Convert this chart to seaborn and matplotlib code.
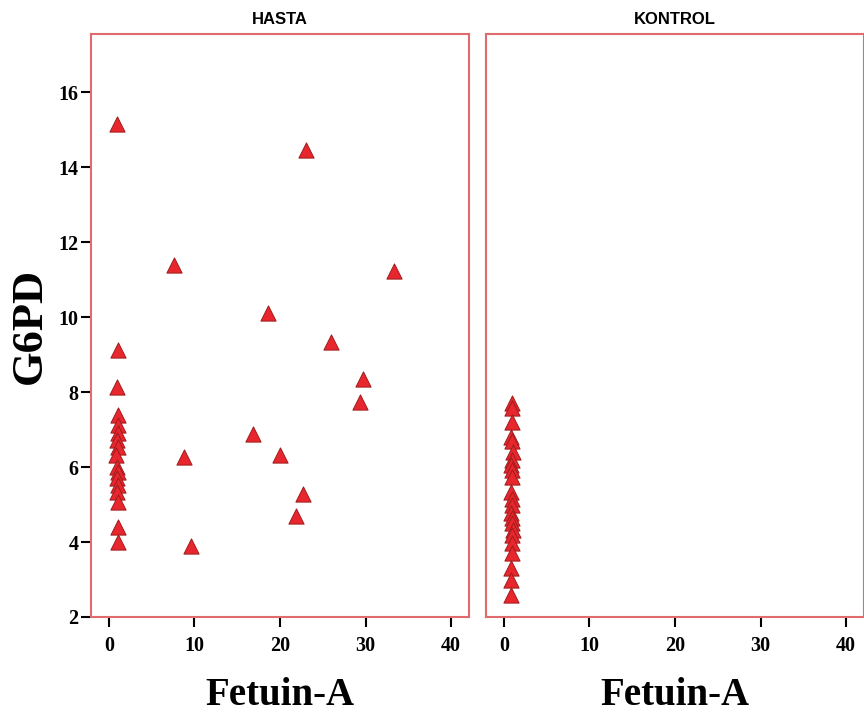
import matplotlib
matplotlib.use("Agg")
import matplotlib.pyplot as plt
import seaborn as sns
import pandas as pd

# Fetuin-A and G6PD measurements per group
hasta_fetuin = [0.9, 23.0, 7.6, 33.3, 18.6, 26.0, 29.7, 29.4, 16.8, 8.8, 20.0, 22.7, 21.9, 9.6,
                1.0, 0.9, 1.1, 1.1, 1.0, 0.9, 1.0, 0.8, 0.9, 1.0, 0.9, 1.0, 0.9, 1.0, 1.1, 1.0]
hasta_g6pd = [15.15, 14.45, 11.39, 11.23, 10.1, 9.33, 8.35, 7.73, 6.88, 6.27, 6.32, 5.28, 4.69, 3.89,
              9.12, 8.13, 7.39, 7.12, 6.9, 6.72, 6.54, 6.32, 6.01, 5.87, 5.7, 5.52, 5.34, 5.07, 4.41, 4.01]

kontrol_fetuin = [0.9, 0.9, 0.9, 0.8, 0.9, 1.0, 0.9, 0.8, 0.9, 0.9, 0.8,
                  0.9, 0.9, 0.8, 0.9, 0.9, 1.0, 0.9, 0.9, 0.9, 0.8, 0.8, 0.8]
kontrol_g6pd = [7.71, 7.57, 7.21, 6.81, 6.7, 6.41, 6.19, 6.05, 5.92, 5.74, 5.34,
                5.16, 4.99, 4.77, 4.63, 4.5, 4.32, 4.19, 3.97, 3.7, 3.3, 3.0, 2.6]

groups = ["HASTA", "KONTROL"]
x_ticks = [0, 10, 20, 30, 40]
y_ticks = [2, 4, 6, 8, 10, 12, 14, 16]

df = pd.DataFrame({
    "Fetuin-A": hasta_fetuin + kontrol_fetuin,
    "G6PD": hasta_g6pd + kontrol_g6pd,
    "grup": ["HASTA"] * len(hasta_fetuin) + ["KONTROL"] * len(kontrol_fetuin),
})

sns.set_style("white")
plt.rcParams["text.color"] = "black"
plt.rcParams["axes.labelcolor"] = "black"
plt.rcParams["xtick.color"] = "black"
plt.rcParams["ytick.color"] = "black"

FRAME = "#e06a6c"
serif = ["Liberation Serif", "DejaVu Serif"]
sans = ["Liberation Sans", "DejaVu Sans"]

fig = plt.figure(figsize=(8.64, 7.2), dpi=100)
left, bottom, width, height = 91 / 864, 1 - 617 / 720, 378 / 864, (617 - 34) / 720
gap = 17 / 864
axes = [fig.add_axes([left, bottom, width, height]),
        fig.add_axes([left + width + gap, bottom, width, height])]

for ax, g in zip(axes, groups):
    sub = df[df["grup"] == g]
    sns.scatterplot(data=sub, x="Fetuin-A", y="G6PD", ax=ax, marker="^", s=120,
                    color="#e8262e", edgecolor="#9e1c1c", linewidth=0.7, legend=False, zorder=3)
    ax.set_xlim(-2.1, 42.1)
    ax.set_ylim(2, 17.55)
    ax.set_xticks(x_ticks)
    ax.set_yticks(y_ticks)
    for sp in ax.spines.values():
        sp.set_visible(True)
        sp.set_color(FRAME)
        sp.set_linewidth(1.5)
    ax.tick_params(axis="both", direction="out", length=7, width=1.5, color="black",
                   labelcolor="black", labelsize=14.5, bottom=True, left=True)
    ax.tick_params(axis="x", pad=7)
    ax.tick_params(axis="y", pad=2)
    for lab in ax.get_xticklabels() + ax.get_yticklabels():
        lab.set_fontfamily(serif)
        lab.set_fontweight("bold")
    ax.set_title(g, fontsize=12, fontweight="bold", family=sans, pad=7, color="black")
    ax.set_xlabel("Fetuin-A", fontsize=28, fontweight="bold", family=serif, labelpad=15,
                  color="black")
    ax.grid(False)

axes[0].set_ylabel("G6PD", fontsize=32, fontweight="bold", family=serif, labelpad=6,
                   color="black")
axes[1].set_ylabel("")
axes[1].tick_params(axis="y", left=False, labelleft=False)

fig.savefig("out.png", dpi=100, facecolor="white")
